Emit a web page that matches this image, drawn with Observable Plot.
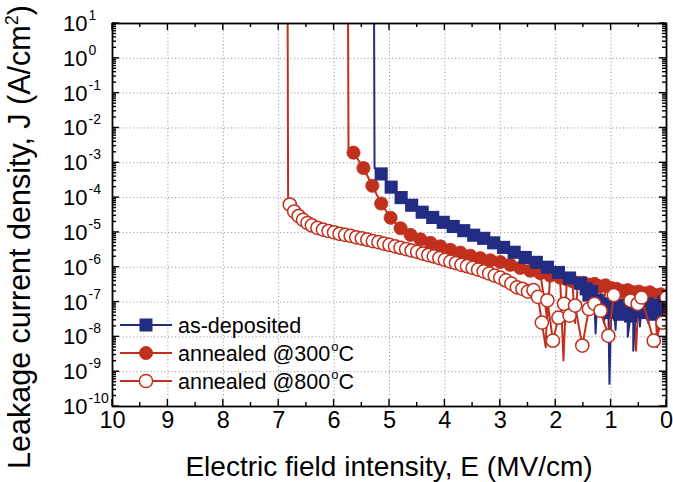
<!DOCTYPE html>
<html><head><meta charset="utf-8">
<script src="https://cdn.jsdelivr.net/npm/d3@7"></script>
<script src="https://cdn.jsdelivr.net/npm/@observablehq/plot@0.6"></script>
<style>
html,body{margin:0;padding:0;background:#fff;}
#chart{width:673px;height:482px;}
</style></head><body><div id="chart"></div>
<script>
// ---------- data (E in MV/cm, log10 of J in A/cm^2) ----------
const asDepE = [5.15,4.97,4.79,4.60,4.41,4.22,4.03,3.85,3.66,3.48,3.30,3.12,2.94,2.75,2.55,2.35,2.15,1.95,1.75,1.55,
  1.45,1.40,1.35,1.30,1.25,1.20,1.15,1.10,1.05,1.00,0.95,0.90,0.85,0.80,0.75,0.70,0.65,0.60,0.55,0.50,0.45,0.40,0.35,0.30,0.25,0.20,0.15,0.10,0.05,0.00];
const asDepLogJ = [-3.32,-3.70,-4.00,-4.22,-4.42,-4.57,-4.71,-4.83,-4.95,-5.08,-5.17,-5.30,-5.43,-5.57,-5.72,-5.86,-6.00,-6.15,-6.31,-6.46,
  -6.62,-6.80,-6.70,-7.00,-6.95,-7.15,-7.05,-7.25,-7.10,-7.30,-7.05,-7.20,-7.35,-7.10,-7.30,-7.15,-7.40,-7.20,-7.05,-7.25,-7.10,-7.30,-7.05,-7.20,-7.35,-7.10,-7.25,-7.15,-7.00,-7.10];
// points joined by the line only (breakdown rise and noise spikes)
const asDepLineE = [5.28,5.27,1.28,1.13,1.03,0.92,0.70,0.60,0.48,0.33,0.11];
const asDepLineLogJ = [2,-3.15,-7.9,-7.6,-9.35,-7.8,-8.0,-8.4,-7.7,-7.6,-7.7];

const ann300E = [5.65,5.47,5.31,5.15,4.98,4.80,4.62,4.44,4.26,4.08,3.90,3.72,3.54,3.36,3.18,3.00,2.82,2.64,2.46,2.28,2.10,1.92,
  1.80,1.70,1.60,1.50,1.40,1.30,1.20,1.10,1.00,0.90,0.80,0.70,0.60,0.50,0.40,0.30,0.20,0.10,0.00];
const ann300LogJ = [-2.71,-3.15,-3.66,-4.17,-4.58,-4.88,-5.07,-5.20,-5.30,-5.40,-5.50,-5.58,-5.67,-5.74,-5.80,-5.85,-5.93,-6.02,-6.10,-6.17,-6.24,-6.30,
  -6.35,-6.40,-6.45,-6.45,-6.50,-6.48,-6.55,-6.52,-6.60,-6.62,-6.68,-6.66,-6.72,-6.70,-6.75,-6.72,-6.80,-6.78,-6.85];
const ann300LineE = [5.75,5.74,2.15,1.86,1.65,1.35,1.15,0.95,0.55,0.42,0.17,0.05];
const ann300LineLogJ = [2,-2.6,-7.5,-8.68,-7.6,-7.3,-7.5,-7.2,-8.4,-7.4,-8.3,-7.6];

const ann800E = [6.80,6.72,6.64,6.56,6.48,6.40,6.30,6.20,6.10,6.00,5.90,5.80,5.70,5.60,5.50,5.40,5.30,5.20,5.10,5.00,
  4.90,4.80,4.70,4.60,4.50,4.40,4.30,4.20,4.10,4.00,3.90,3.80,3.70,3.60,3.50,3.40,3.30,3.20,3.10,3.00,2.90,2.80,2.70,
  2.60,2.50,2.40,2.32,2.25,2.15,2.05,1.95,1.85,1.75,1.65,1.52,1.40,1.30,1.19,1.05,0.95,0.65,0.52,0.45,0.23,0.07,0.00];
const ann800LogJ = [-4.20,-4.40,-4.53,-4.64,-4.73,-4.80,-4.87,-4.92,-4.96,-5.00,-5.04,-5.07,-5.10,-5.14,-5.17,-5.21,-5.25,-5.28,-5.32,-5.36,
  -5.40,-5.44,-5.48,-5.52,-5.56,-5.61,-5.65,-5.69,-5.74,-5.79,-5.84,-5.88,-5.93,-5.97,-6.02,-6.07,-6.12,-6.18,-6.24,-6.30,-6.38,-6.47,-6.58,
  -6.62,-6.70,-6.66,-6.85,-7.59,-6.95,-8.11,-7.45,-7.05,-7.39,-7.10,-8.25,-7.20,-7.05,-7.25,-7.97,-6.80,-6.96,-7.05,-6.87,-8.11,-7.59,-6.87];
const ann800LineE = [6.84,6.83,2.18];
const ann800LineLogJ = [2,-4.1,-8.3];

const seriesNames = ["as-deposited", "annealed @300", "annealed @800"];
const xTicks = [10,9,8,7,6,5,4,3,2,1,0];
const xMinorTicks = [9.5,8.5,7.5,6.5,5.5,4.5,3.5,2.5,1.5,0.5];
const yExponents = [1,0,-1,-2,-3,-4,-5,-6,-7,-8,-9,-10];
const yMinorMantissas = [2,3,4,5,6,7,8,9];

// ---------- layout / style ----------
const W = 673, H = 482, mL = 112, mR = 7, mT = 23, mB = 76;
const BLUE = "#222c82", RED = "#c1301d";
const FONT = "'Liberation Sans', Arial, Helvetica, sans-serif";

const pts = (E, L) => E.map((e, i) => ({E: e, J: Math.pow(10, L[i])}));
const merged = (a, b) => a.concat(b).sort((p, q) => q.E - p.E);

const asDep = pts(asDepE, asDepLogJ), asDepLine = merged(asDep, pts(asDepLineE, asDepLineLogJ));
const ann300 = pts(ann300E, ann300LogJ), ann300Line = merged(ann300, pts(ann300LineE, ann300LineLogJ));
const ann800 = pts(ann800E, ann800LogJ), ann800Line = merged(ann800, pts(ann800LineE, ann800LineLogJ));

const plot = Plot.plot({
  width: W, height: H, marginLeft: mL, marginRight: mR, marginTop: mT, marginBottom: mB,
  style: {fontFamily: FONT, fontSize: "23.5px", color: "#000", background: "#fff", overflow: "visible"},
  x: {domain: [10, 0], ticks: xTicks, tickFormat: d => String(d), tickSize: 0, tickPadding: 5, label: null},
  y: {type: "log", domain: [1e-10, 10], axis: null},
  marks: [
    Plot.ruleX(xTicks.slice(1, -1), {stroke: "#9c9c9c", strokeWidth: 1, strokeDasharray: "1.2,2.3"}),
    Plot.ruleY(yExponents.slice(1, -1).map(e => Math.pow(10, e)), {stroke: "#9c9c9c", strokeWidth: 1, strokeDasharray: "1.2,2.3"}),
    Plot.line(ann300Line, {x: "E", y: "J", stroke: RED, strokeWidth: 2, clip: true}),
    Plot.dot(ann300, {x: "E", y: "J", r: 6.6, fill: RED, stroke: RED, strokeWidth: 0.8, clip: true}),
    Plot.line(asDepLine, {x: "E", y: "J", stroke: BLUE, strokeWidth: 2, clip: true}),
    Plot.dot(asDep, {x: "E", y: "J", symbol: "square", r: 7.4, fill: BLUE, stroke: "none", clip: true}),
    Plot.line(ann800Line, {x: "E", y: "J", stroke: RED, strokeWidth: 2, clip: true}),
    Plot.dot(ann800, {x: "E", y: "J", r: 6.6, fill: "#fff", stroke: RED, strokeWidth: 1.5, clip: true}),
    Plot.frame({stroke: "#000", strokeWidth: 1.8})
  ]
});
document.getElementById("chart").appendChild(plot);

// ---------- ticks, labels, titles, legend using Plot's scales ----------
const svg = d3.select(plot);
const xs = plot.scale("x"), ys = plot.scale("y");
const tk = svg.append("g").attr("stroke", "#000").attr("stroke-width", 1.4).attr("fill", "none");
const xBot = H - mB, yRight = W - mR;
function xtick(v, len) {
  const px = xs.apply(v);
  tk.append("line").attr("x1", px).attr("x2", px).attr("y1", xBot).attr("y2", xBot - len);
  tk.append("line").attr("x1", px).attr("x2", px).attr("y1", mT).attr("y2", mT + len);
}
function ytick(v, len) {
  const py = ys.apply(v);
  tk.append("line").attr("y1", py).attr("y2", py).attr("x1", mL).attr("x2", mL + len);
  tk.append("line").attr("y1", py).attr("y2", py).attr("x1", yRight).attr("x2", yRight - len);
}
xTicks.forEach(v => xtick(v, 7));
xMinorTicks.forEach(v => xtick(v, 4));
yExponents.forEach(e => {
  ytick(Math.pow(10, e), 7);
  if (e < 1) yMinorMantissas.forEach(m => ytick(m * Math.pow(10, e), 4));
});

// y tick labels: 10^n
const yl = svg.append("g").attr("font-family", FONT).attr("fill", "#000").attr("text-anchor", "start");
yExponents.forEach(e => {
  const py = ys.apply(Math.pow(10, e));
  const t = yl.append("text").attr("x", 63).attr("y", py + 8).attr("font-size", 22).attr("text-anchor", "start");
  t.append("tspan").text("10");
  t.append("tspan").attr("font-size", 14).attr("dx", 1).attr("dy", -11).text(String(e));
});

// axis titles
svg.append("text").attr("x", (mL + yRight) / 2).attr("y", 476).attr("text-anchor", "middle")
  .attr("font-family", FONT).attr("font-size", 28).attr("fill", "#000")
  .text("Electric field intensity, E (MV/cm)");
const yt = svg.append("text").attr("transform", `translate(30,${237}) rotate(-90)`).attr("text-anchor", "middle")
  .attr("font-family", FONT).attr("font-size", 30.5).attr("fill", "#000");
yt.append("tspan").text("Leakage current density, J (A/cm");
yt.append("tspan").attr("font-size", 18).attr("dy", -12).text("2");
yt.append("tspan").attr("dy", 12).text(")");

// legend
const lg = svg.append("g").attr("font-family", FONT).attr("text-anchor", "start");
const rows = [325, 353, 381];
rows.forEach((ry, i) => {
  const col = i === 0 ? BLUE : RED;
  lg.append("line").attr("x1", 120).attr("x2", 172).attr("y1", ry).attr("y2", ry).attr("stroke", col).attr("stroke-width", 2);
  if (i === 0) lg.append("rect").attr("x", 139.5).attr("y", ry - 6.5).attr("width", 13).attr("height", 13).attr("fill", BLUE);
  else lg.append("circle").attr("cx", 146).attr("cy", ry).attr("r", 6.6)
    .attr("fill", i === 1 ? RED : "#fff").attr("stroke", RED).attr("stroke-width", i === 1 ? 0.8 : 1.5);
  const t = lg.append("text").attr("x", 178).attr("y", ry + 7.5).attr("font-size", 21.5).attr("fill", "#000").attr("text-anchor", "start");
  t.append("tspan").text(seriesNames[i]);
  if (i > 0) {
    t.append("tspan").attr("font-size", 13).attr("dy", -10).attr("dx", 1).text("o");
    t.append("tspan").attr("dy", 10).text("C");
  }
});
</script></body></html>
